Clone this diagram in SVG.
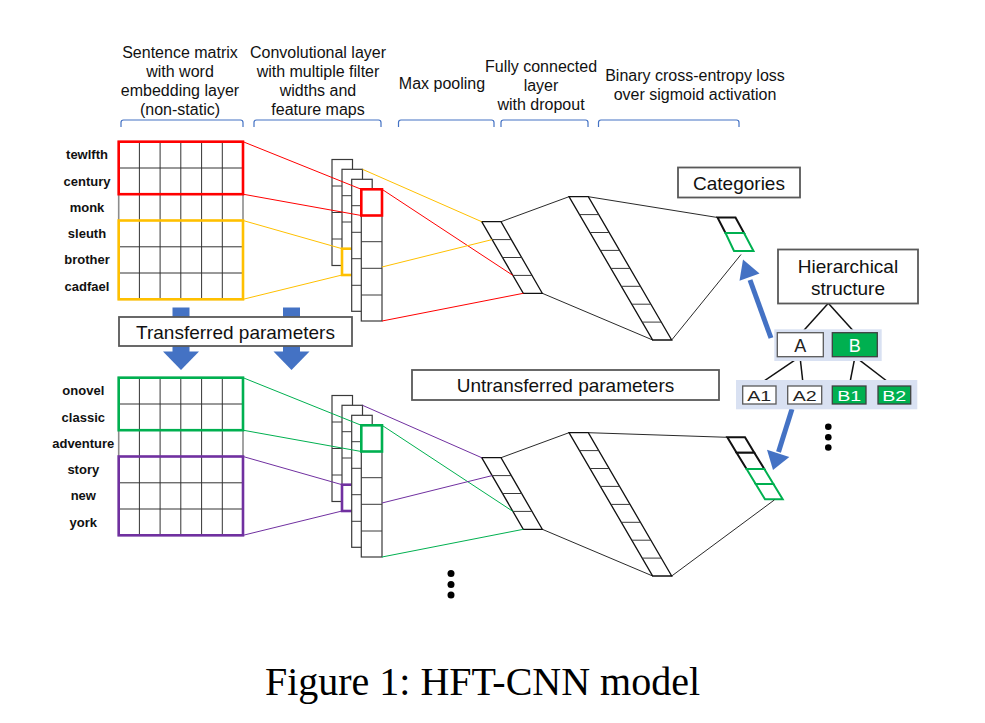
<svg xmlns="http://www.w3.org/2000/svg" width="985" height="723" viewBox="0 0 985 723">
<style>
.lbl{font-family:"Liberation Sans",Arial,sans-serif;font-size:16px;fill:#111;text-anchor:middle}
.word{font-family:"Liberation Sans",Arial,sans-serif;font-size:13px;font-weight:bold;fill:#111;text-anchor:middle}
.boxt{font-family:"Liberation Sans",Arial,sans-serif;font-size:19px;fill:#111;text-anchor:middle}
.box{fill:#fff;stroke:#595959;stroke-width:1.8}
.brk{fill:none;stroke:#4472C4;stroke-width:1.2}
.grid{stroke:#333;stroke-width:1;fill:none}
.outer{fill:#fff;stroke:#8c8c8c;stroke-width:1.6}
.layer{fill:#fff;stroke:#3a3a3a;stroke-width:1.2}
.cell{stroke:#3a3a3a;stroke-width:1}
.par{fill:#fff;stroke:#111;stroke-width:1.3}
.c{fill:none;stroke-width:1}
.k{stroke:#111;stroke-width:0.9}
.red{stroke:#FF0000}
.yel{stroke:#FFC000}
.grn{stroke:#00B050}
.pur{stroke:#7030A0}
.tree{stroke:#111;stroke-width:1.5}
.blue{fill:#4472C4}
.node{font-family:"Liberation Sans",Arial,sans-serif;text-anchor:middle}
</style>

<!-- header labels -->
<g id="labels">
<text class="lbl" x="180" y="58">Sentence matrix</text>
<text class="lbl" x="180" y="77">with word</text>
<text class="lbl" x="180" y="96">embedding layer</text>
<text class="lbl" x="180" y="115">(non-static)</text>
<text class="lbl" x="318" y="58">Convolutional layer</text>
<text class="lbl" x="318" y="77">with multiple filter</text>
<text class="lbl" x="318" y="96">widths and</text>
<text class="lbl" x="318" y="115">feature maps</text>
<text class="lbl" x="442" y="89">Max pooling</text>
<text class="lbl" x="541" y="72">Fully connected</text>
<text class="lbl" x="541" y="91">layer</text>
<text class="lbl" x="541" y="110">with dropout</text>
<text class="lbl" x="695" y="81">Binary cross-entropy loss</text>
<text class="lbl" x="695" y="100">over sigmoid activation</text>
<path class="brk" d="M121,127V122.5Q121,120 123.5,120H240.5Q243,120 243,122.5V127"/>
<path class="brk" d="M254,127V122.5Q254,120 256.5,120H378.5Q381,120 381,122.5V127"/>
<path class="brk" d="M398.5,127V122.5Q398.5,120 401,120H491.5Q494,120 494,122.5V127"/>
<path class="brk" d="M501,127V122.5Q501,120 503.5,120H585.5Q588,120 588,122.5V127"/>
<path class="brk" d="M598.5,127V122.5Q598.5,120 601,120H736.5Q739,120 739,122.5V127"/>
</g>

<!-- transfer arrows (behind box) -->
<g id="transfer-arrows">
<rect class="blue" x="172.5" y="307.5" width="17" height="45"/>
<polygon class="blue" points="163,351.5 199,351.5 181,370"/>
<rect class="blue" x="283" y="307.5" width="17" height="45"/>
<polygon class="blue" points="273.5,351.5 309.5,351.5 291.5,370"/>
</g>

<g id="transferred">
<rect class="box" x="119" y="317" width="233" height="29"/>
<text class="boxt" x="235.5" y="338.5">Transferred parameters</text>
</g>

<g id="untransferred">
<rect class="box" x="412" y="370" width="307" height="30"/>
<text class="boxt" x="565.5" y="392">Untransferred parameters</text>
</g>

<!-- top sentence matrix -->
<g id="matrix-top">
<text class="word" x="87" y="159.3">tewlfth</text>
<text class="word" x="87" y="185.6">century</text>
<text class="word" x="87" y="211.9">monk</text>
<text class="word" x="87" y="238.1">sleuth</text>
<text class="word" x="87" y="264.4">brother</text>
<text class="word" x="87" y="290.7">cadfael</text>
<rect class="outer" x="118.7" y="141.7" width="124.3" height="157.6"/>
<path class="grid" d="M139.4,141.7V299.3M160.1,141.7V299.3M180.8,141.7V299.3M201.6,141.7V299.3M222.3,141.7V299.3M118.7,168H243M118.7,194.2H243M118.7,220.5H243M118.7,246.8H243M118.7,273H243"/>
<rect x="118.7" y="141.7" width="124.3" height="52.5" fill="none" stroke="#FF0000" stroke-width="2.6"/>
<rect x="118.7" y="220.5" width="124.3" height="78.8" fill="none" stroke="#FFC000" stroke-width="2.6"/>
</g>

<!-- top conv layers -->
<g id="conv-top">
<rect class="layer" x="332" y="159.5" width="20.5" height="106"/>
<path class="cell" d="M332,186H352.5M332,212.5H352.5M332,239H352.5"/>
<rect class="layer" x="342" y="169.3" width="20.5" height="105.7"/>
<path class="cell" d="M342,195.7H362.5M342,222H362.5M342,248.7H362.5"/>
<rect x="342" y="248.7" width="20.5" height="26.3" fill="none" stroke="#FFC000" stroke-width="2.6"/>
<rect class="layer" x="351.7" y="179.3" width="20.5" height="132"/>
<path class="cell" d="M351.7,205.7H372.2M351.7,232.3H372.2M351.7,258.7H372.2M351.7,285.3H372.2"/>
<rect class="layer" x="361.3" y="189.3" width="20.7" height="131.7"/>
<path class="cell" d="M361.3,215.5H382M361.3,241.7H382M361.3,268.3H382M361.3,295H382"/>
<rect x="361.3" y="189.3" width="20.7" height="26.2" fill="none" stroke="#FF0000" stroke-width="2.6"/>
</g>

<!-- top max pooling -->
<g id="pool-top">
<polygon class="par" points="481.7,221.7 501,221.7 542.3,293.3 523.3,293.3"/>
<path class="cell" d="M492.1,239.6H511.4M502.5,257.5H521.8M512.9,275.4H532.2"/>
</g>

<!-- top fully connected -->
<g id="fc-top">
<polygon class="par" points="569,196.7 588.3,196.7 671.7,340 652.7,340"/>
<path class="cell" d="M579.5,214.6H598.7M589.9,232.5H609.1M600.4,250.4H619.6M610.9,268.4H630.1M621.3,286.3H640.5M631.8,304.2H651M642.2,322.1H661.4"/>
</g>

<!-- top categories output -->
<g id="out-top">
<polygon fill="#fff" stroke="#111" stroke-width="2" points="717.5,217.5 735.5,217.5 744,233 725.5,233"/>
<polygon fill="#fff" stroke="#00B050" stroke-width="2" points="725.5,233 744,233 753.5,251 734,251"/>
</g>

<g id="categories">
<rect class="box" x="678" y="167.5" width="122" height="30"/>
<text class="boxt" x="739" y="189.5">Categories</text>
</g>

<!-- bottom sentence matrix -->
<g id="matrix-bottom">
<text class="word" x="83.3" y="395.3">onovel</text>
<text class="word" x="83.3" y="421.6">classic</text>
<text class="word" x="83.3" y="447.9">adventure</text>
<text class="word" x="83.3" y="474.1">story</text>
<text class="word" x="83.3" y="500.4">new</text>
<text class="word" x="83.3" y="526.7">york</text>
<g transform="translate(0,236)">
<rect class="outer" x="118.7" y="141.7" width="124.3" height="157.6"/>
<path class="grid" d="M139.4,141.7V299.3M160.1,141.7V299.3M180.8,141.7V299.3M201.6,141.7V299.3M222.3,141.7V299.3M118.7,168H243M118.7,194.2H243M118.7,220.5H243M118.7,246.8H243M118.7,273H243"/>
<rect x="118.7" y="141.7" width="124.3" height="52.5" fill="none" stroke="#00B050" stroke-width="2.6"/>
<rect x="118.7" y="220.5" width="124.3" height="78.8" fill="none" stroke="#7030A0" stroke-width="2.6"/>
</g>
</g>

<!-- bottom conv layers -->
<g id="conv-bottom" transform="translate(0,236)">
<rect class="layer" x="332" y="159.5" width="20.5" height="106"/>
<path class="cell" d="M332,186H352.5M332,212.5H352.5M332,239H352.5"/>
<rect class="layer" x="342" y="169.3" width="20.5" height="105.7"/>
<path class="cell" d="M342,195.7H362.5M342,222H362.5M342,248.7H362.5"/>
<rect x="342" y="248.7" width="20.5" height="26.3" fill="none" stroke="#7030A0" stroke-width="2.6"/>
<rect class="layer" x="351.7" y="179.3" width="20.5" height="132"/>
<path class="cell" d="M351.7,205.7H372.2M351.7,232.3H372.2M351.7,258.7H372.2M351.7,285.3H372.2"/>
<rect class="layer" x="361.3" y="189.3" width="20.7" height="131.7"/>
<path class="cell" d="M361.3,215.5H382M361.3,241.7H382M361.3,268.3H382M361.3,295H382"/>
<rect x="361.3" y="189.3" width="20.7" height="26.2" fill="none" stroke="#00B050" stroke-width="2.6"/>
</g>

<g id="pool-bottom" transform="translate(0,236)">
<polygon class="par" points="481.7,221.7 501,221.7 542.3,293.3 523.3,293.3"/>
<path class="cell" d="M492.1,239.6H511.4M502.5,257.5H521.8M512.9,275.4H532.2"/>
</g>

<g id="fc-bottom" transform="translate(0,236)">
<polygon class="par" points="569,196.7 588.3,196.7 671.7,340 652.7,340"/>
<path class="cell" d="M579.5,214.6H598.7M589.9,232.5H609.1M600.4,250.4H619.6M610.9,268.4H630.1M621.3,286.3H640.5M631.8,304.2H651M642.2,322.1H661.4"/>
</g>

<g id="out-bottom">
<polygon fill="#fff" stroke="#111" stroke-width="2" points="727.3,437.3 745,437.3 754.3,452.7 736.6,452.7"/>
<polygon fill="#fff" stroke="#111" stroke-width="2" points="736.6,452.7 754.3,452.7 764.3,469 746.6,469"/>
<polygon fill="#fff" stroke="#00B050" stroke-width="2" points="746.6,469 764.3,469 773.4,484 755.7,484"/>
<polygon fill="#fff" stroke="#00B050" stroke-width="2" points="755.7,484 773.4,484 782.7,499.3 765,499.3"/>
</g>

<!-- connectors -->
<g id="connectors" class="c">
<line class="red" x1="243" y1="141.7" x2="361.3" y2="189.3"/>
<line class="red" x1="243" y1="194.2" x2="361.3" y2="215.5"/>
<line class="red" x1="382" y1="189.3" x2="512.9" y2="275.4"/>
<line class="red" x1="382" y1="321" x2="523.3" y2="293.3"/>
<line class="yel" x1="243" y1="220.5" x2="342" y2="248.7"/>
<line class="yel" x1="243" y1="299.3" x2="342" y2="275"/>
<line class="yel" x1="362.5" y1="169.3" x2="481.7" y2="221.7"/>
<line class="yel" x1="382" y1="267" x2="492.1" y2="239.6"/>
<line class="grn" x1="243" y1="377.7" x2="361.3" y2="425.3"/>
<line class="grn" x1="243" y1="430.2" x2="361.3" y2="451.5"/>
<line class="grn" x1="382" y1="425.3" x2="512.9" y2="511.4"/>
<line class="grn" x1="382" y1="557" x2="523.3" y2="529.3"/>
<line class="pur" x1="243" y1="456.5" x2="342" y2="484.7"/>
<line class="pur" x1="243" y1="535.3" x2="342" y2="511"/>
<line class="pur" x1="362.5" y1="405.3" x2="481.7" y2="457.7"/>
<line class="pur" x1="382" y1="503" x2="492.1" y2="475.6"/>
<line class="k" x1="501" y1="221.7" x2="569" y2="196.7"/>
<line class="k" x1="542.3" y1="293.3" x2="652.7" y2="340"/>
<line class="k" x1="588.3" y1="196.7" x2="717.5" y2="217.5"/>
<line class="k" x1="671.7" y1="340" x2="741" y2="254.5"/>
<line class="k" x1="501" y1="457.7" x2="569" y2="432.7"/>
<line class="k" x1="542.3" y1="529.3" x2="652.7" y2="576"/>
<line class="k" x1="588.3" y1="432.7" x2="727.3" y2="437.3"/>
<line class="k" x1="671.7" y1="576" x2="774.3" y2="500"/>
<line class="tree" x1="828.3" y1="303.3" x2="801.7" y2="332.7"/>
<line class="tree" x1="828.3" y1="303.3" x2="855" y2="332.7"/>
<line class="tree" x1="800" y1="356.7" x2="756.7" y2="386"/>
<line class="tree" x1="800" y1="356.7" x2="803.3" y2="386"/>
<line class="tree" x1="855" y1="356.7" x2="849.3" y2="386"/>
<line class="tree" x1="855" y1="356.7" x2="893.3" y2="386"/>
<line x1="771" y1="338" x2="750" y2="280" stroke="#4472C4" stroke-width="5"/>
<polygon class="blue" points="743,259.5 759.5,273.5 739.5,280.8"/>
<line x1="792" y1="409" x2="778.5" y2="452" stroke="#4472C4" stroke-width="5"/>
<polygon class="blue" points="773,470 789.3,457 767,449.8"/>
</g>

<!-- hierarchy -->
<g id="hierarchical-structure">
<rect class="box" x="778" y="249.5" width="140" height="54"/>
<text class="boxt" x="848" y="272.5">Hierarchical</text>
<text class="boxt" x="848" y="295">structure</text>
</g>
<g id="level1">
<rect x="774.3" y="329.3" width="107.4" height="31.7" fill="#D9E1F2"/>
<rect x="777.3" y="332.7" width="46" height="24" fill="#fff" stroke="#595959" stroke-width="1.3"/>
<text class="node" x="800.3" y="351.5" font-size="18" fill="#222">A</text>
<rect x="832.3" y="332.7" width="45" height="24" fill="#00B050" stroke="#404040" stroke-width="1.3"/>
<text class="node" x="854.8" y="351.5" font-size="18" fill="#fff">B</text>
</g>
<g id="level2">
<rect x="736" y="380" width="181.3" height="29.3" fill="#D9E1F2"/>
<rect x="742.7" y="386" width="33.3" height="18" fill="#fff" stroke="#595959" stroke-width="1.3"/>
<text class="node" x="759.3" y="401" font-size="15" fill="#222" textLength="24" lengthAdjust="spacingAndGlyphs">A1</text>
<rect x="787.7" y="386" width="34" height="18" fill="#fff" stroke="#595959" stroke-width="1.3"/>
<text class="node" x="804.7" y="401" font-size="15" fill="#222" textLength="24" lengthAdjust="spacingAndGlyphs">A2</text>
<rect x="832.3" y="386" width="33.7" height="18" fill="#00B050" stroke="#404040" stroke-width="1.3"/>
<text class="node" x="849.2" y="401" font-size="15" fill="#fff" textLength="24" lengthAdjust="spacingAndGlyphs">B1</text>
<rect x="878" y="386" width="32.7" height="18" fill="#00B050" stroke="#404040" stroke-width="1.3"/>
<text class="node" x="894.3" y="401" font-size="15" fill="#fff" textLength="24" lengthAdjust="spacingAndGlyphs">B2</text>
</g>

<g id="dots">
<circle cx="828.3" cy="426.7" r="3.3" fill="#000"/>
<circle cx="828.3" cy="437.3" r="3.3" fill="#000"/>
<circle cx="828.3" cy="447.5" r="3.3" fill="#000"/>
<circle cx="451" cy="573.5" r="3.5" fill="#000"/>
<circle cx="451" cy="584.5" r="3.5" fill="#000"/>
<circle cx="451" cy="595" r="3.5" fill="#000"/>
</g>

<text x="482.5" y="695" font-family="'Liberation Serif','Times New Roman',serif" font-size="40" text-anchor="middle" fill="#000">Figure 1: HFT-CNN model</text>
</svg>
